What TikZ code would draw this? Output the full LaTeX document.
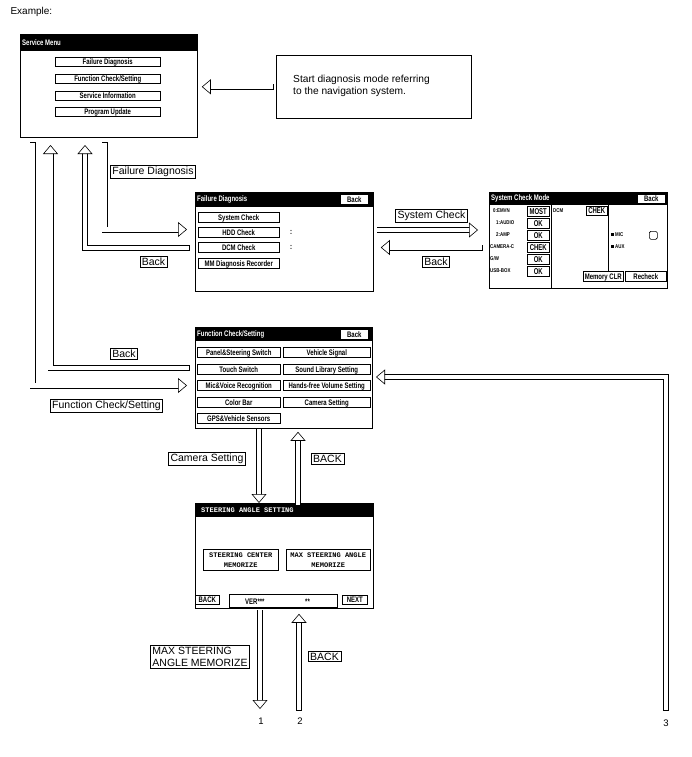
\documentclass[tikz,border=0pt]{standalone}
\usepackage{fontspec}
\usepackage{graphicx}
\setmainfont{Liberation Sans}
\newfontfamily\monof{Liberation Mono}
\usetikzlibrary{arrows.meta}
\newcommand\cnd[1]{\scalebox{0.75}[1]{\fontsize{8}{9}\selectfont\bfseries #1}}
\newcommand\bgt[1]{\scalebox{0.7}[1]{\fontsize{8.5}{9}\selectfont\bfseries #1}}
\newcommand\tny[1]{\scalebox{0.8}[1]{\fontsize{5.5}{6}\selectfont\bfseries #1}}
\newcommand\mnt[1]{{\monof\fontsize{7}{8}\selectfont #1}}
\begin{document}
\begin{tikzpicture}[x=1pt,y=-1pt,
  scr/.style={draw, line width=0.8pt, anchor=north west, inner sep=0pt},
  btn/.style={draw, line width=0.5pt, fill=white, anchor=north west, inner sep=0pt, text height=5.8pt, text depth=0pt},
  btn2/.style={draw, line width=0.5pt, fill=white, anchor=north west, inner sep=0pt},
  ttl/.style={anchor=west, text=white, inner sep=0pt},
  lbl/.style={draw, line width=0.6pt, fill=white, inner xsep=2pt, inner ysep=1.5pt, font=\fontsize{10.5}{12}\selectfont},
  harrow/.style={draw=black, line width=0.6pt, double=white, double distance=4.8pt, line cap=rect,
     -{Triangle[length=9pt, width=15pt, fill=white, line width=0.6pt]}}]
\useasboundingbox (0,0) rectangle (691,757);
\node[anchor=west, font=\fontsize{10}{12}\selectfont] (ex) at (7,12) {Example:};

% ---------- Service Menu ----------
\node[scr, minimum width=177pt, minimum height=103pt] (sm) at (20,34) {};
\fill (20,34) rectangle (197,51);
\node[ttl] (smt) at (22,43) {\cnd{Service Menu}};
\node[btn, minimum width=105pt, minimum height=9pt] (sm1) at (55,57) {\cnd{Failure Diagnosis}};
\node[btn, minimum width=105pt, minimum height=9pt] (sm2) at (55,74) {\cnd{Function Check/Setting}};
\node[btn, minimum width=105pt, minimum height=9pt] (sm3) at (55,91) {\cnd{Service Information}};
\node[btn, minimum width=105pt, minimum height=9pt] (sm4) at (55,107) {\cnd{Program Update}};

% ---------- text box ----------
\node[draw, line width=0.6pt, minimum width=195pt, minimum height=63pt, anchor=north west] (tb) at (276,55) {};
\node[anchor=west, align=left, font=\fontsize{10.2}{12.5}\selectfont, inner sep=0pt] (tbt) at (293,86) {Start diagnosis mode referring\\to the navigation system.};

% ---------- Failure Diagnosis ----------
\node[scr, minimum width=178pt, minimum height=99pt] (fd) at (195,192) {};
\fill (195,192) rectangle (373,207);
\node[ttl] (fdt) at (197,199.5) {\cnd{Failure Diagnosis}};
\node[btn, minimum width=28pt, minimum height=10pt] (fdb) at (340,194) {\cnd{Back}};
\node[btn, minimum width=81pt, minimum height=10pt] (fd1) at (198,212) {\cnd{System Check}};
\node[btn, minimum width=81pt, minimum height=10pt] (fd2) at (198,227) {\cnd{HDD Check}};
\node[btn, minimum width=81pt, minimum height=10pt] (fd3) at (198,242) {\cnd{DCM Check}};
\node[btn, minimum width=81pt, minimum height=10pt] (fd4) at (198,258) {\cnd{MM Diagnosis Recorder}};
\node (fdc1) at (291,232) {\cnd{:}};
\node (fdc2) at (291,247) {\cnd{:}};

% ---------- System Check Mode ----------
\node[scr, minimum width=178pt, minimum height=96pt] (sc) at (489,192) {};
\fill (489,192) rectangle (667,205);
\node[ttl] (sct) at (491,198.5) {\cnd{System Check Mode}};
\node[btn, minimum width=28pt, minimum height=9pt] (scb) at (637,194) {\cnd{Back}};
\draw[line width=0.6pt] (551,205) -- (551,288);
\draw[line width=0.6pt] (608,205) -- (608,271);
\node[anchor=west, inner sep=0pt] (l0) at (493,210.5) {\tny{0:EMVN}};
\node[anchor=west, inner sep=0pt] (l1) at (496,222.5) {\tny{1:AUDIO}};
\node[anchor=west, inner sep=0pt] (l2) at (496,234.5) {\tny{2:AMP}};
\node[anchor=west, inner sep=0pt] (l3) at (490,246.5) {\tny{CAMERA-C}};
\node[anchor=west, inner sep=0pt] (l4) at (490,258.5) {\tny{G/W}};
\node[anchor=west, inner sep=0pt] (l5) at (490,270.5) {\tny{USB-BOX}};
\node[btn, minimum width=22pt, minimum height=10pt] (s0) at (527,206) {\bgt{MOST}};
\node[btn, minimum width=22pt, minimum height=10pt] (s1) at (527,218) {\bgt{OK}};
\node[btn, minimum width=22pt, minimum height=10pt] (s2) at (527,230) {\bgt{OK}};
\node[btn, minimum width=22pt, minimum height=10pt] (s3) at (527,242) {\bgt{CHEK}};
\node[btn, minimum width=22pt, minimum height=10pt] (s4) at (527,254) {\bgt{OK}};
\node[btn, minimum width=22pt, minimum height=10pt] (s5) at (527,266) {\bgt{OK}};
\node[anchor=west, inner sep=0pt] (dcm) at (553,210.5) {\tny{DCM}};
\node[btn, minimum width=21pt, minimum height=9pt] (sd) at (586,206) {\bgt{CHEK}};
\fill (611,232.5) rectangle (614,235.5);
\node[anchor=west, inner sep=0pt] (mic) at (615,234.5) {\tny{MIC}};
\fill (611,244.5) rectangle (614,247.5);
\node[anchor=west, inner sep=0pt] (aux) at (615,246.5) {\tny{AUX}};
\node[draw, line width=0.6pt, rounded corners=1.5pt, minimum width=8pt, minimum height=8pt, anchor=north west, inner sep=0pt] (sq) at (649,231) {};
\node[btn, minimum width=40pt, minimum height=10pt] (mclr) at (583,271) {\cnd{Memory CLR}};
\node[btn, minimum width=41pt, minimum height=10pt] (rch) at (625,271) {\cnd{Recheck}};

% ---------- Function Check/Setting ----------
\node[scr, minimum width=177pt, minimum height=101pt] (fc) at (195,327) {};
\fill (195,327) rectangle (372,341);
\node[ttl] (fct) at (197,334) {\cnd{Function Check/Setting}};
\node[btn, minimum width=28pt, minimum height=10pt] (fcb) at (340,329) {\cnd{Back}};
\node[btn, minimum width=83pt, minimum height=10pt] (f1) at (197,347) {\cnd{Panel\&Steering Switch}};
\node[btn, minimum width=87pt, minimum height=10pt] (f2) at (283,347) {\cnd{Vehicle Signal}};
\node[btn, minimum width=83pt, minimum height=10pt] (f3) at (197,364) {\cnd{Touch Switch}};
\node[btn, minimum width=87pt, minimum height=10pt] (f4) at (283,364) {\cnd{Sound Library Setting}};
\node[btn, minimum width=83pt, minimum height=10pt] (f5) at (197,380) {\cnd{Mic\&Voice Recognition}};
\node[btn, minimum width=87pt, minimum height=10pt] (f6) at (283,380) {\cnd{Hands-free Volume Setting}};
\node[btn, minimum width=83pt, minimum height=10pt] (f7) at (197,397) {\cnd{Color Bar}};
\node[btn, minimum width=87pt, minimum height=10pt] (f8) at (283,397) {\cnd{Camera Setting}};
\node[btn, minimum width=83pt, minimum height=10pt] (f9) at (197,413) {\cnd{GPS\&Vehicle Sensors}};

% ---------- Steering Angle Setting ----------
\node[scr, minimum width=178pt, minimum height=105pt] (st) at (195,503) {};
\fill (195,503) rectangle (373,517);
\node[ttl] (stt) at (201,510) {\textcolor{white}{\mnt{\bfseries STEERING ANGLE SETTING}}};
\node[btn2, minimum width=75pt, minimum height=21pt, align=center] (st1) at (203,549) {\mnt{\bfseries STEERING CENTER}\\[-2pt]\mnt{\bfseries MEMORIZE}};
\node[btn2, minimum width=84pt, minimum height=21pt, align=center] (st2) at (286,549) {\mnt{\bfseries MAX STEERING ANGLE}\\[-2pt]\mnt{\bfseries MEMORIZE}};
\node[btn, minimum width=24pt, minimum height=9pt] (stb) at (195,595) {\cnd{BACK}};
\node[btn, minimum width=108pt, minimum height=13pt] (stv) at (229,594) {};
\node[anchor=west, inner sep=0pt] (ver) at (245,602) {\cnd{VER***}};
\node[anchor=west, inner sep=0pt] (ver2) at (305,602) {\cnd{**}};
\node[btn, minimum width=25pt, minimum height=9pt] (stn) at (342,595) {\cnd{NEXT}};

% ---------- coordinates ----------
\coordinate (d0) at (104.5,145);
\coordinate (d1) at (187,229.5);
\coordinate (c0) at (187,248);
\coordinate (c1) at (85,145);
\coordinate (b0) at (187,368);
\coordinate (b1) at (50.5,145);
\coordinate (a0) at (32.5,145);
\coordinate (a1) at (187,385.5);
\coordinate (t0) at (666,708);
\coordinate (t1) at (376,377);
\coordinate (n1) at (260,709);
\coordinate (n2) at (299,708);

% ---------- arrows ----------
\draw[harrow] ([xshift=-5pt]tb.west) -- ([xshift=4pt]sm.east |- tb.west);
\draw[harrow] (d0) |- (d1);
\draw[harrow] (c0) -| (c1);
\draw[harrow] (b0) -| (b1);
\draw[harrow] (a0) |- (a1);
\draw[harrow] ([xshift=6pt]fd.east |- 0,230) -- ([xshift=-11pt]sc.west |- 0,230);
\draw[harrow] ([xshift=-9pt]sc.west |- 0,247.5) -- ([xshift=7pt]fd.east |- 0,247.5);
\draw[harrow] (t0) |- (t1);
\draw[harrow] ([yshift=-3pt]fc.south -| 259,0) -- (st.north -| 259,0);
\draw[harrow] (st.north -| 298,0) -- ([yshift=-3pt]fc.south -| 298,0);
\draw[harrow] ([yshift=-4pt]st.south -| 260,0) -- (n1);
\draw[harrow] (n2) -- ([yshift=-5pt]st.south -| 299,0);

% ---------- labels ----------
\node[lbl] (lfd) at (153,172) {Failure Diagnosis};
\node[lbl] (lb1) at (153.5,261.5) {Back};
\node[lbl] (lb2) at (124,354) {Back};
\node[lbl] (lfc) at (106.5,405.5) {Function Check/Setting};
\node[lbl] (lsc) at (431.5,216) {System Check};
\node[lbl] (lb3) at (436,261.5) {Back};
\node[lbl] (lcs) at (207,458.5) {Camera Setting};
\node[lbl] (lbk) at (327.5,459) {BACK};
\node[lbl, align=left] (lmx) at (200,657) {MAX STEERING\\ANGLE MEMORIZE};
\node[lbl] (lbk2) at (324.5,656.5) {BACK};
\node[font=\fontsize{9.5}{11}\selectfont] (num1) at (261,721) {1};
\node[font=\fontsize{9.5}{11}\selectfont] (num2) at (300,721) {2};
\node[font=\fontsize{9.5}{11}\selectfont] (num3) at (666,723) {3};
\end{tikzpicture}
\end{document}
